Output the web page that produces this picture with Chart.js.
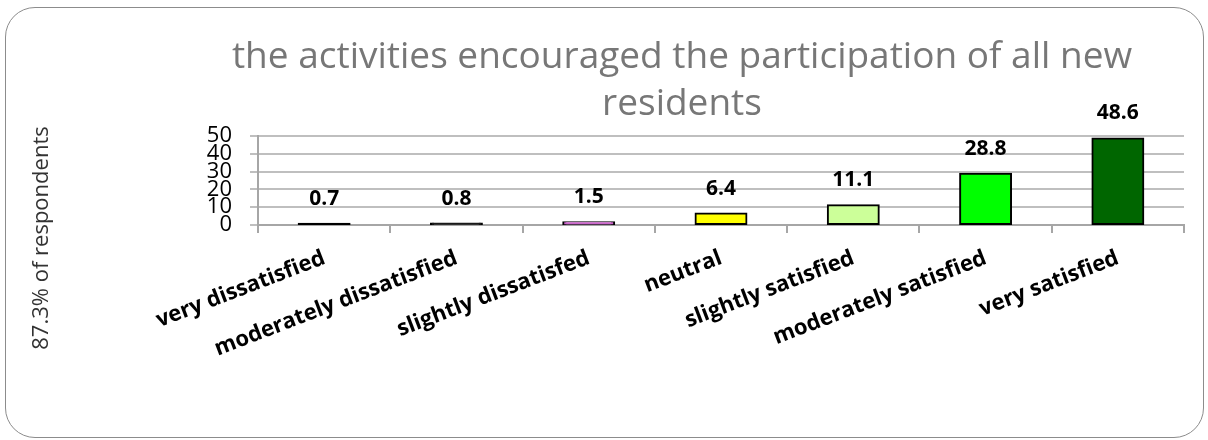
<!DOCTYPE html>
<html>
<head>
<meta charset="utf-8">
<script src="https://cdn.jsdelivr.net/npm/chart.js@4.4.1/dist/chart.umd.min.js"></script>
<style>
  html, body { margin: 0; padding: 0; background: #ffffff; }
  #wrap { position: relative; width: 1208px; height: 440px; overflow: hidden; }
  #frame { position: absolute; left: 5px; top: 7px; width: 1199px; height: 431px; box-sizing: border-box;
           border: 1.5px solid #8c8c8c; border-radius: 30px; pointer-events: none; }
  #c { position: absolute; left: 0; top: 0; }
</style>
</head>
<body>
<div id="wrap">
  <div id="frame"></div>
  <canvas id="c" width="1208" height="440"></canvas>
</div>
<script>
const categories = ['very dissatisfied', 'moderately dissatisfied', 'slightly dissatisfed', 'neutral',
                    'slightly satisfied', 'moderately satisfied', 'very satisfied'];
const values = [0.7, 0.8, 1.5, 6.4, 11.1, 28.8, 48.6];
const barColors = ['#000000', '#1a1a1a', '#cc66cc', '#ffff00', '#ccff99', '#00ff00', '#006600'];
const yTicks = [0, 10, 20, 30, 40, 50];
const titleLines = ['the activities encouraged the participation of all new', 'residents'];
const yTitle = '87.3% of respondents';

const FONT = '"Open Sans"';

const extras = {
  id: 'extras',
  afterLayout(chart) {
    const t = chart.titleBlock;
    if (t) { t.left = 156; t.right = 1208; }
  },
  afterDatasetsDraw(chart) {
    const ctx = chart.ctx;
    const meta = chart.getDatasetMeta(0);
    ctx.save();
    ctx.font = 'bold 21px ' + FONT;
    ctx.fillStyle = '#000000';
    ctx.textAlign = 'center';
    ctx.textBaseline = 'middle';
    meta.data.forEach((bar, i) => {
      ctx.fillText(values[i].toFixed(1), bar.x, bar.y - 25);
    });
    ctx.restore();
  },
  afterDraw(chart) {
    const ctx = chart.ctx;
    ctx.save();
    ctx.font = '22px ' + FONT;
    ctx.fillStyle = '#333333';
    ctx.textAlign = 'center';
    ctx.textBaseline = 'middle';
    ctx.translate(42, 238);
    ctx.rotate(-Math.PI / 2);
    ctx.fillText(yTitle, 0, 0);
    ctx.restore();
  }
};

new Chart(document.getElementById('c'), {
  type: 'bar',
  data: {
    labels: categories,
    datasets: [{
      data: values,
      backgroundColor: barColors,
      borderColor: '#000000',
      borderWidth: 2,
      borderSkipped: false,
      inflateAmount: 1,
      barPercentage: 0.385,
      categoryPercentage: 1.0
    }]
  },
  options: {
    responsive: false,
    animation: false,
    layout: { padding: { left: 0, right: 24, top: 10, bottom: 0 } },
    plugins: {
      legend: { display: false },
      tooltip: { enabled: false },
      title: {
        display: true,
        text: titleLines,
        color: '#777777',
        font: { family: FONT, size: 37, weight: 'normal', lineHeight: '47px' },
        padding: { top: 23.5, bottom: 8.5 }
      }
    },
    scales: {
      x: {
        afterFit(s) { s.height = 215; },
        grid: { drawOnChartArea: false, drawTicks: true, tickLength: 8, color: '#a6a6a6', lineWidth: 2, offset: true },
        border: { display: true, color: '#a6a6a6', width: 2 },
        ticks: {
          color: '#000000',
          font: { family: FONT, size: 22, weight: 'bold' },
          minRotation: 21, maxRotation: 21,
          autoSkip: false,
          padding: 12
        }
      },
      y: {
        min: 0, max: 50,
        afterFit(s) { s.width = 258; },
        afterBuildTicks(s) { s.ticks = yTicks.map(v => ({ value: v })); },
        grid: { color: '#bfbfbf', lineWidth: 2, drawTicks: true, tickLength: 8 },
        border: { display: true, color: '#a6a6a6', width: 2 },
        ticks: {
          color: '#000000',
          font: { family: FONT, size: 22, weight: 'normal' },
          autoSkip: false,
          padding: 18
        }
      }
    }
  },
  plugins: [extras]
});
</script>
</body>
</html>
